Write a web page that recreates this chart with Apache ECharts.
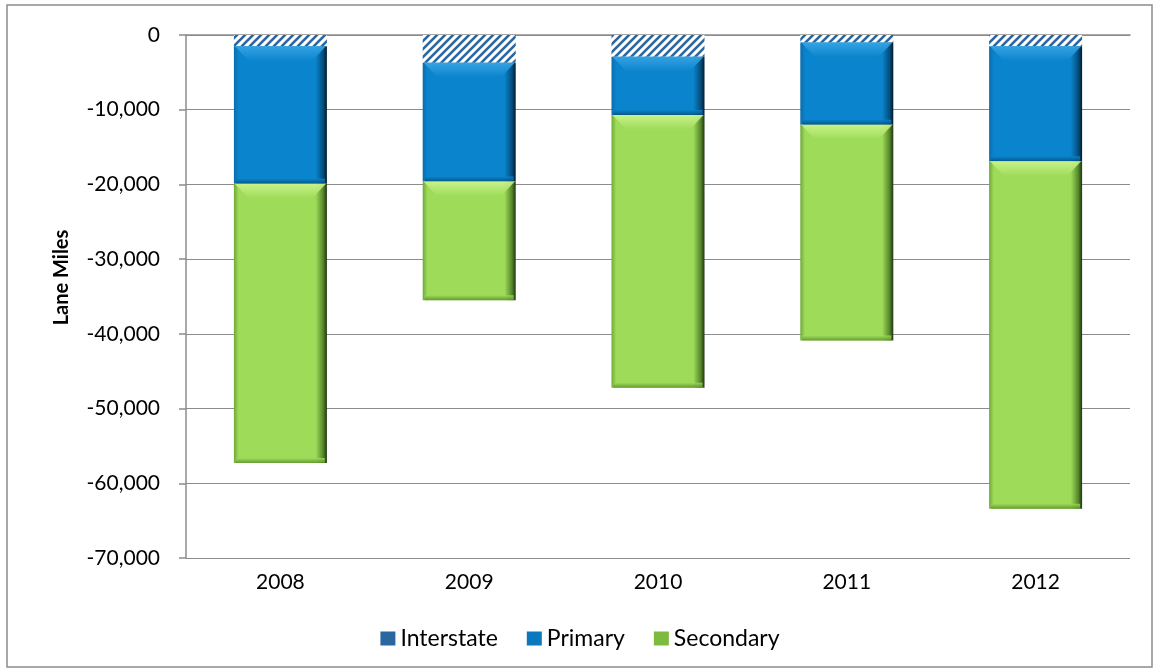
<!DOCTYPE html>
<html>
<head>
<meta charset="utf-8">
<script src="https://cdn.jsdelivr.net/npm/echarts@6/dist/echarts.min.js"></script>
<style>
  html, body { margin: 0; padding: 0; background: #fff; }
  #chart { width: 1160px; height: 672px; }
</style>
</head>
<body>
<div id="chart"></div>
<script>
// Annual change in lane miles by road system
const years = ['2008', '2009', '2010', '2011', '2012'];
const interstate = [-1500, -3700, -2900, -1000, -1500];
const primary = [-18400, -15900, -7800, -11000, -15400];
const secondary = [-37400, -15900, -36500, -28900, -46500];
const yTicks = { min: -70000, max: 0, step: 10000 };

const BAR_W = 93;
const font = 'Lato, "Open Sans", sans-serif';

// Diagonal hatch tile for the Interstate segments
function hatchTile() {
  const c = document.createElement('canvas');
  c.width = 8; c.height = 8;
  const g = c.getContext('2d');
  g.fillStyle = '#ffffff';
  g.fillRect(0, 0, 8, 8);
  g.strokeStyle = '#2a66a0';
  g.lineWidth = 2.6;
  g.beginPath();
  g.moveTo(-2, 10); g.lineTo(10, -2);
  g.moveTo(-6, 6); g.lineTo(6, -6);
  g.moveTo(2, 14); g.lineTo(14, 2);
  g.stroke();
  return c;
}

// Horizontal shading: darker rims on the left and right of each bar
function sideShade(edge, main, dark, deep) {
  return {
    type: 'linear', x: 0, y: 0, x2: 1, y2: 0,
    colorStops: [
      { offset: 0, color: edge },
      { offset: 0.05, color: main },
      { offset: 0.88, color: main },
      { offset: 0.96, color: dark },
      { offset: 1, color: deep }
    ]
  };
}

const palette = {
  primary: { edge: '#0a6cae', main: '#0a84cc', dark: '#054d7c', deep: '#021b2c', light: '#3aa6e6', base: '#06507e' },
  secondary: { edge: '#6fa83a', main: '#9ddb58', dark: '#55862a', deep: '#1f3510', light: '#cdf58f', base: '#5b8f2c' }
};

// Segment extents (top, bottom) for the bevel overlay, from the stacked values
const bevelData = [];
years.forEach((y, i) => {
  const t0 = interstate[i];
  const t1 = t0 + primary[i];
  const t2 = t1 + secondary[i];
  bevelData.push([i, t0, t1, 0]);
  bevelData.push([i, t1, t2, 1]);
});

function renderBevel(params, api) {
  const i = api.value(0);
  const kind = api.value(3) === 0 ? palette.primary : palette.secondary;
  const pTop = api.coord([i, api.value(1)]);
  const pBot = api.coord([i, api.value(2)]);
  const x0 = pTop[0] - BAR_W / 2, x1 = pTop[0] + BAR_W / 2;
  const yT = pTop[1], yB = pBot[1];
  const segH = yB - yT;
  const h = Math.min(15, segH / 3);
  const b = h;
  const bh = Math.min(5, segH / 4);
  return {
    type: 'group',
    silent: true,
    children: [{
      type: 'polygon',
      shape: { points: [[x0 + 1, yT], [x1 - 1, yT], [x1 - b, yT + h], [x0 + b, yT + h]] },
      style: {
        fill: {
          type: 'linear', x: 0, y: 0, x2: 0, y2: 1,
          colorStops: [
            { offset: 0, color: kind.light },
            { offset: 1, color: kind.main }
          ]
        },
        opacity: 0.9
      }
    }, {
      type: 'rect',
      shape: { x: x0 + 2, y: yB - bh, width: BAR_W - 4, height: bh },
      style: {
        fill: {
          type: 'linear', x: 0, y: 0, x2: 0, y2: 1,
          colorStops: [
            { offset: 0, color: kind.main },
            { offset: 1, color: kind.base }
          ]
        },
        opacity: 0.85
      }
    }]
  };
}

const chart = echarts.init(document.getElementById('chart'));
const fmt = v => v === 0 ? '0' : (v < 0 ? '-' : '') + Math.abs(v).toLocaleString('en-US');

chart.setOption({
  backgroundColor: '#ffffff',
  animation: false,
  graphic: [{
    type: 'rect',
    shape: { x: 7, y: 5, width: 1145, height: 662 },
    style: { fill: 'none', stroke: '#8c8c8c', lineWidth: 1.5 },
    silent: true
  }],
  grid: { left: 186, right: 30, top: 35, bottom: 114 },
  legend: {
    top: 622,
    left: 'center',
    itemWidth: 15,
    itemHeight: 14,
    itemGap: 29,
    icon: 'rect',
    textStyle: { fontFamily: font, fontSize: 23, color: '#000' },
    data: [
      { name: 'Interstate', itemStyle: { color: '#2a66a0' } },
      { name: 'Primary', itemStyle: { color: '#0a78bc' } },
      { name: 'Secondary', itemStyle: { color: '#7dbb3e' } }
    ]
  },
  xAxis: [{
    type: 'category',
    data: years,
    position: 'top',
    axisLine: { lineStyle: { color: '#8c8c8c', width: 1.5 } },
    axisTick: { inside: true, length: 7, lineStyle: { color: '#8c8c8c', width: 1.5 } },
    axisLabel: { show: false }
  }, {
    type: 'category',
    data: years,
    position: 'bottom',
    axisLine: { show: false },
    axisTick: { show: false },
    axisLabel: { margin: 14, fontFamily: font, fontSize: 21, color: '#000' }
  }],
  yAxis: {
    type: 'value',
    min: yTicks.min,
    max: yTicks.max,
    interval: yTicks.step,
    name: 'Lane Miles',
    nameLocation: 'middle',
    nameGap: 114,
    nameTextStyle: { fontFamily: font, fontSize: 20, fontWeight: 'bold', color: '#000', padding: [0, 0, 0, 38] },
    axisLine: { show: true, lineStyle: { color: '#8c8c8c', width: 1.5 } },
    axisTick: { show: true, length: 7, lineStyle: { color: '#8c8c8c', width: 1.5 } },
    axisLabel: { margin: 26, fontFamily: font, fontSize: 21, color: '#000', formatter: fmt },
    splitLine: { lineStyle: { color: '#8c8c8c', width: 1.2 } }
  },
  series: [{
    name: 'Interstate',
    type: 'bar',
    stack: 'miles',
    barWidth: BAR_W,
    data: interstate,
    itemStyle: { color: { image: hatchTile(), repeat: 'repeat' } }
  }, {
    name: 'Primary',
    type: 'bar',
    stack: 'miles',
    barWidth: BAR_W,
    data: primary,
    itemStyle: { color: sideShade(palette.primary.edge, palette.primary.main, palette.primary.dark, palette.primary.deep) }
  }, {
    name: 'Secondary',
    type: 'bar',
    stack: 'miles',
    barWidth: BAR_W,
    data: secondary,
    itemStyle: { color: sideShade(palette.secondary.edge, palette.secondary.main, palette.secondary.dark, palette.secondary.deep) }
  }, {
    name: 'bevel',
    type: 'custom',
    renderItem: renderBevel,
    data: bevelData,
    z: 3,
    silent: true,
    tooltip: { show: false }
  }]
});
</script>
</body>
</html>
